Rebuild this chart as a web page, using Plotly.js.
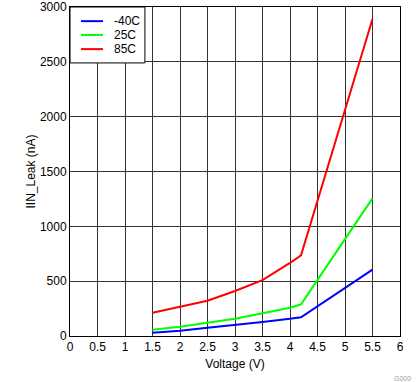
<!DOCTYPE html>
<html>
<head>
<meta charset="utf-8">
<script src="https://cdn.plot.ly/plotly-3.0.1.min.js"></script>
<style>html,body{margin:0;padding:0;background:#fff;}#chart{width:419px;height:382px;}</style>
</head>
<body>
<div id="chart"></div>
<script>
const voltage = [1.5, 2, 2.5, 3, 3.5, 4, 4.2, 5.5];
const leakM40 = [30, 48, 76, 100, 128, 158, 170, 605];
const leak25 = [58, 85, 121, 158, 207, 258, 289, 1255];
const leak85 = [212, 267, 322, 410, 510, 666, 736, 2890];
const seriesNames = ['-40C', '25C', '85C'];
const seriesColors = ['#0000ff', '#00ff00', '#ff0000'];
const xTicks = [0, 0.5, 1, 1.5, 2, 2.5, 3, 3.5, 4, 4.5, 5, 5.5, 6];
const yTicks = [0, 500, 1000, 1500, 2000, 2500, 3000];

const ys = [leakM40, leak25, leak85];
const traces = ys.map((y, i) => ({
  x: voltage, y: y, type: 'scatter', mode: 'lines', name: seriesNames[i],
  line: {color: seriesColors[i], width: 2}
}));

const font = {family: 'Liberation Sans, Arial, sans-serif', size: 12, color: '#000'};

// Legend drawn in paper coordinates
const legX0 = 0, legX1 = 0.227, legY0 = 0.830, legY1 = 1;
const legRowsY = [0.957, 0.915, 0.872];
const shapes = [{type: 'rect', xref: 'paper', yref: 'paper', x0: legX0, x1: legX1, y0: legY0, y1: legY1,
  line: {color: '#000', width: 1}, fillcolor: '#fff', layer: 'above'}];
const annotations = [];
seriesNames.forEach((n, i) => {
  shapes.push({type: 'line', xref: 'paper', yref: 'paper', x0: 0.0333, x1: 0.1,
    y0: legRowsY[i], y1: legRowsY[i], line: {color: seriesColors[i], width: 2}, layer: 'above'});
  annotations.push({text: n, xref: 'paper', yref: 'paper', x: 0.127, y: legRowsY[i],
    xanchor: 'left', yanchor: 'middle', showarrow: false, font: font});
});
annotations.push({text: 'G000', x: 1, y: 0, xref: 'paper', yref: 'paper',
  xanchor: 'right', yanchor: 'top', xshift: 13, yshift: -37, showarrow: false,
  font: {family: 'Liberation Sans, Arial, sans-serif', size: 7, color: '#999'}});

const layout = {
  width: 419, height: 382,
  margin: {l: 70, r: 19, t: 7, b: 46},
  paper_bgcolor: '#fff', plot_bgcolor: '#fff',
  font: font,
  showlegend: false,
  xaxis: {range: [0, 6], tickvals: xTicks, ticktext: xTicks.map(String),
    showgrid: true, gridcolor: '#333', gridwidth: 1, zeroline: false,
    showline: true, linecolor: '#000', linewidth: 1, mirror: true, ticks: '',
    title: {text: 'Voltage (V)', font: font, standoff: 6}, tickfont: font},
  yaxis: {range: [0, 3000], tickvals: yTicks, ticktext: yTicks.map(String),
    showgrid: true, gridcolor: '#333', gridwidth: 1, zeroline: false,
    showline: true, linecolor: '#000', linewidth: 1, mirror: true, ticks: '',
    title: {text: 'IIN_Leak (nA)', font: font, standoff: 1}, tickfont: font},
  shapes: shapes,
  annotations: annotations
};
Plotly.newPlot('chart', traces, layout, {displayModeBar: false, staticPlot: true});
</script>
</body>
</html>
